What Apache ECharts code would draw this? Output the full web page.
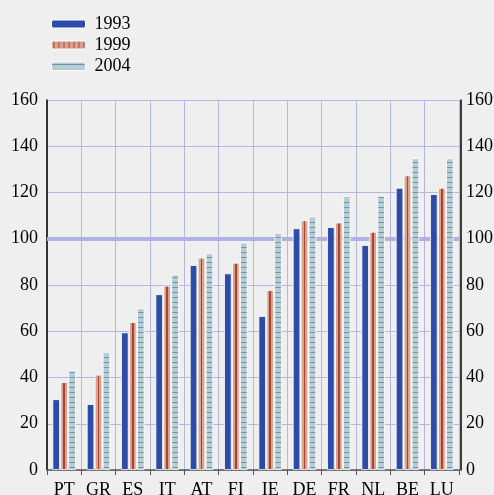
<!DOCTYPE html>
<html>
<head>
<meta charset="utf-8">
<script src="https://cdn.jsdelivr.net/npm/echarts@6/dist/echarts.min.js"></script>
<style>
html,body{margin:0;padding:0;background:#efefef;}
#c{width:494px;height:495px;}
</style>
</head>
<body>
<div id="c"></div>
<script>
const categories = ['PT','GR','ES','IT','AT','FI','IE','DE','FR','NL','BE','LU'];
const v1993 = [30.6, 28.5, 59.5, 76, 88.6, 85, 66.6, 104.5, 105, 97.3, 122, 119.3];
const v1999 = [38, 41.2, 64, 79.7, 91.8, 89.6, 77.8, 108, 107, 103, 127.4, 122];
const v2004 = [43, 51, 70, 84.5, 93.8, 98.3, 102.6, 109.5, 118.2, 118.6, 134.8, 134.8];
const seriesNames = ['1993','1999','2004'];
const yTicks = {min:0, max:160, interval:20};
const refValue = 100;

const FONT = 'Liberation Serif';
const GRID = '#b6b6e6';

function hStripes(){
  const c = document.createElement('canvas');
  c.width = 4; c.height = 5;
  const g = c.getContext('2d');
  g.fillStyle = '#b9cbd3'; g.fillRect(0,0,4,5);
  g.fillStyle = '#6a98a6'; g.fillRect(0,2,4,1);
  return c;
}
function vStripes(){
  const c = document.createElement('canvas');
  c.width = 5; c.height = 4;
  const g = c.getContext('2d');
  g.fillStyle = '#d7a290'; g.fillRect(0,0,5,4);
  g.fillStyle = '#b04a36'; g.fillRect(2,0,1,4);
  return c;
}
const col1993 = '#2d4ca8';
const col1999 = {type:'linear', x:0, y:0, x2:1, y2:0, colorStops:[
  {offset:0, color:'#d7a290'},{offset:0.38, color:'#d7a290'},
  {offset:0.38, color:'#ad4230'},{offset:0.62, color:'#ad4230'},
  {offset:0.62, color:'#d7a290'},{offset:1, color:'#d7a290'}]};
const col2004 = {image: hStripes(), repeat:'repeat'};
const leg1999 = {image: vStripes(), repeat:'repeat'};

const chart = echarts.init(document.getElementById('c'));
const barBase = {
  type:'bar', barWidth:7.5, barGap:'6%', z:3
};
chart.setOption({
  backgroundColor:'#efefef',
  animation:false,
  legend:{
    orient:'vertical', left:46, top:10, itemWidth:34, itemHeight:8, itemGap:3,
    textStyle:{fontFamily:FONT, fontSize:18, color:'#000', padding:[0,0,0,4]},
    data:[
      {name:'1993', itemStyle:{color:col1993, borderColor:'#fff', borderWidth:1}},
      {name:'1999', itemStyle:{color:leg1999, borderColor:'#fff', borderWidth:1}},
      {name:'2004', itemStyle:{color:col2004, borderColor:'#fff', borderWidth:1}}
    ]
  },
  grid:{left:47, right:35, top:100, bottom:25, outerBoundsMode:'none', containLabel:false},
  xAxis:{
    type:'category', data:categories, offset:1,
    axisLine:{lineStyle:{color:'#555', width:1.5}},
    axisTick:{show:true, length:5, lineStyle:{color:'#555'}},
    axisLabel:{fontFamily:FONT, fontSize:18, color:'#000', margin:10},
    splitLine:{show:true, lineStyle:{color:GRID, width:1}}
  },
  yAxis:[
    {type:'value', min:yTicks.min, max:yTicks.max, interval:yTicks.interval, position:'left',
     axisLine:{show:true, lineStyle:{color:'#000', width:1.5}},
     axisTick:{show:false},
     axisLabel:{fontFamily:FONT, fontSize:18, color:'#000', margin:9},
     splitLine:{show:true, lineStyle:{color:GRID, width:1}}},
    {type:'value', min:yTicks.min, max:yTicks.max, interval:yTicks.interval, position:'right', offset:2,
     axisLine:{show:true, lineStyle:{color:'#000', width:1.5}},
     axisTick:{show:false},
     axisLabel:{fontFamily:FONT, fontSize:18, color:'#000', margin:5},
     splitLine:{show:false}}
  ],
  series:[
    Object.assign({}, barBase, {name:seriesNames[0], data:v1993, itemStyle:{color:col1993, borderColor:'#fff', borderWidth:0.8},
      markLine:{z:1, silent:true, symbol:'none', label:{show:false},
        lineStyle:{color:'#b0b0e2', width:4, type:'solid'}, data:[{yAxis:refValue}]}}),
    Object.assign({}, barBase, {name:seriesNames[1], data:v1999, itemStyle:{color:col1999, borderColor:'#fff', borderWidth:0.8}}),
    Object.assign({}, barBase, {name:seriesNames[2], data:v2004, itemStyle:{color:col2004, borderColor:'#fff', borderWidth:0.8}})
  ]
});
</script>
</body>
</html>
